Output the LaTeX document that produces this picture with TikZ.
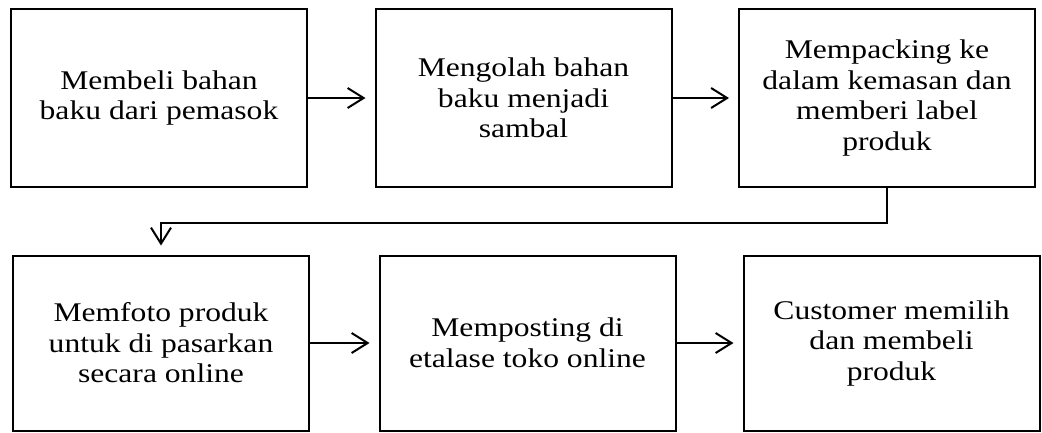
\documentclass[tikz,border=0pt]{standalone}
\usepackage{fontspec}
\setmainfont{Liberation Serif}[FakeStretch=1.17]
\usetikzlibrary{arrows.meta}

\begin{document}
\begin{tikzpicture}[x=1pt, y=1pt,
        stepbox/.style={draw, line width=2pt, minimum width=296pt, minimum height=178pt,
            inner sep=0pt, align=center, font=\fontsize{27}{30.5}\selectfont},
        flow/.style={-{Straight Barb[length=16pt, width=20pt]}, line width=2pt, shorten >=9pt}]
        \def\rowa{-98}
        \def\rowb{-343}

        \useasboundingbox (0,0) rectangle (1042,-432);

        % first row
        \node[stepbox] (beli) at (159,\rowa) {Membeli bahan\\baku dari pemasok};
        \node[stepbox] (olah) at (523.5,\rowa) {Mengolah bahan\\baku menjadi\\sambal};
        \node[stepbox] (pack) at (887,\rowa) {Mempacking ke\\dalam kemasan dan\\memberi label\\produk};

        % second row
        \node[stepbox, minimum height=175pt] (foto) at (161,\rowb) {Memfoto produk\\untuk di pasarkan\\secara online};
        \node[stepbox, minimum height=175pt] (posting) at (527.5,\rowb) {Memposting di\\etalase toko online};
        \node[stepbox, minimum height=175pt] (customer) at (891.5,\rowb) {Customer memilih\\dan membeli\\produk};

        % arrows
        \draw[flow] (beli) -- (olah);
        \draw[flow] (olah) -- (pack);
        \draw[flow] (pack.south) -- ++(0,-35) -| (foto.north);
        \draw[flow] (foto) -- (posting);
        \draw[flow] (posting) -- (customer);
    \end{tikzpicture}
\end{document}
